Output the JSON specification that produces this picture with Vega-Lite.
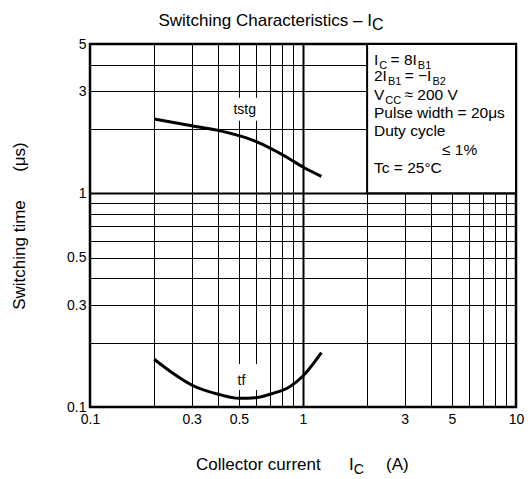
{
  "$schema": "https://vega.github.io/schema/vega-lite/v6.json",
  "width": 426,
  "height": 363,
  "autosize": {"type": "none"},
  "padding": {"left": 90, "top": 44, "right": 14, "bottom": 72},
  "background": "white",
  "config": {
    "view": {"stroke": "black", "strokeWidth": 2.5},
    "font": "Liberation Sans",
    "text": {"font": "Liberation Sans", "color": "black"}
  },
  "datasets": {
    "curves": [
      {"s": "tstg", "x": 0.2, "y": 2.229},
      {"s": "tstg", "x": 0.3, "y": 2.074},
      {"s": "tstg", "x": 0.4, "y": 1.971},
      {"s": "tstg", "x": 0.5, "y": 1.862},
      {"s": "tstg", "x": 0.6, "y": 1.751},
      {"s": "tstg", "x": 0.723, "y": 1.601},
      {"s": "tstg", "x": 0.866, "y": 1.448},
      {"s": "tstg", "x": 1.0, "y": 1.328},
      {"s": "tstg", "x": 1.22, "y": 1.2},
      {"s": "tf", "x": 0.2, "y": 0.1673},
      {"s": "tf", "x": 0.245, "y": 0.1439},
      {"s": "tf", "x": 0.3, "y": 0.1268},
      {"s": "tf", "x": 0.4, "y": 0.1147},
      {"s": "tf", "x": 0.5, "y": 0.1098},
      {"s": "tf", "x": 0.6, "y": 0.1106},
      {"s": "tf", "x": 0.723, "y": 0.1159},
      {"s": "tf", "x": 0.866, "y": 0.1245},
      {"s": "tf", "x": 1.0, "y": 0.1397},
      {"s": "tf", "x": 1.22, "y": 0.1797}
    ],
    "panels": [
      {"k": "bg", "x": 0.4336, "x2": 0.6469, "y": 2.189, "y2": 2.805},
      {"k": "bg", "x": 0.4627, "x2": 0.6263, "y": 0.1201, "y2": 0.1591},
      {"k": "box", "x": 2, "x2": 10, "y": 1, "y2": 5}
    ],
    "texts": [
      {"k": "bm", "x": 2.1544, "y": 3.999, "t": "I"},
      {"k": "bm", "x": 2.5767, "y": 3.999, "t": "= 8"},
      {"k": "bm", "x": 3.2684, "y": 3.999, "t": "I"},
      {"k": "bm", "x": 2.1544, "y": 3.341, "t": "2I"},
      {"k": "bm", "x": 3.0024, "y": 3.341, "t": "= −I"},
      {"k": "bm", "x": 2.1544, "y": 2.741, "t": "V"},
      {"k": "bm", "x": 2.9966, "y": 2.741, "t": "≈ 200 V"},
      {"k": "bm", "x": 2.1544, "y": 2.25, "t": "Pulse width = 20μs"},
      {"k": "bm", "x": 2.1544, "y": 1.859, "t": "Duty cycle"},
      {"k": "bm", "x": 4.494, "y": 1.514, "t": "≤ 1%"},
      {"k": "bm", "x": 2.1544, "y": 1.243, "t": "Tc = 25°C"},
      {"k": "bs", "x": 2.2817, "y": 3.999, "t": "C"},
      {"k": "bs", "x": 3.4613, "y": 3.999, "t": "B1"},
      {"k": "bs", "x": 2.5047, "y": 3.341, "t": "B1"},
      {"k": "bs", "x": 4.053, "y": 3.341, "t": "B2"},
      {"k": "bs", "x": 2.4355, "y": 2.741, "t": "CC"},
      {"k": "cl", "x": 0.5325, "y": 2.348, "t": "tstg"},
      {"k": "cl", "x": 0.514, "y": 0.1268, "t": "tf"},
      {"k": "tm", "x": 2.1083, "y": 6.069, "t": "Switching Characteristics – I"},
      {"k": "ts", "x": 2.1083, "y": 6.069, "t": "C"},
      {"k": "am", "x": 0.3146, "y": 0.0507, "t": "Collector current"},
      {"k": "am", "x": 1.6443, "y": 0.0507, "t": "I"},
      {"k": "as", "x": 1.7298, "y": 0.0507, "t": "C"},
      {"k": "am", "x": 2.4528, "y": 0.0507, "t": "(A)"}
    ]
  },
  "encoding": {
    "x": {
      "field": "x",
      "type": "quantitative",
      "scale": {"type": "log", "domain": [0.1, 10]},
      "axis": {
        "values": [0.1, 0.2, 0.3, 0.4, 0.5, 0.6, 0.7, 0.8, 0.9, 1, 2, 3, 4, 5, 6, 7, 8, 9, 10],
        "format": "~g",
        "labelExpr": "indexof([0.1,0.3,0.5,1,3,5,10], datum.value) >= 0 ? datum.label : ''",
        "title": null,
        "grid": true,
        "gridColor": "black",
        "gridOpacity": 1,
        "gridWidth": {"condition": {"test": "datum.value == 1", "value": 2}, "value": 1},
        "ticks": false,
        "domain": false,
        "labelPadding": 5,
        "labelFontSize": 14,
        "labelFont": "Liberation Sans",
        "labelColor": "black",
        "labelFlush": false,
        "labelOverlap": false
      }
    },
    "y": {
      "field": "y",
      "type": "quantitative",
      "scale": {"type": "log", "domain": [0.1, 5]},
      "axis": {
        "values": [0.1, 0.2, 0.3, 0.4, 0.5, 0.6, 0.7, 0.8, 0.9, 1, 2, 3, 4, 5],
        "format": "~g",
        "labelExpr": "indexof([0.1,0.3,0.5,1,3,5], datum.value) >= 0 ? datum.label : ''",
        "title": "Switching time\u00a0\u00a0\u00a0\u00a0\u00a0\u00a0(μs)\u00a0",
        "titleFont": "Liberation Sans",
        "titleFontSize": 17,
        "titleFontWeight": "normal",
        "titleColor": "black",
        "titlePadding": 38,
        "grid": true,
        "gridColor": "black",
        "gridOpacity": 1,
        "gridWidth": {"condition": {"test": "datum.value == 1", "value": 2}, "value": 1},
        "ticks": false,
        "domain": false,
        "labelPadding": 4,
        "labelFontSize": 14,
        "labelFont": "Liberation Sans",
        "labelColor": "black",
        "labelFlush": false,
        "labelOverlap": false
      }
    }
  },
  "layer": [
    {
      "data": {"name": "panels"},
      "transform": [{"filter": "datum.k == 'bg'"}],
      "mark": {"type": "rect", "fill": "white", "strokeWidth": 0},
      "encoding": {"x2": {"field": "x2"}, "y2": {"field": "y2"}}
    },
    {
      "data": {"name": "panels"},
      "transform": [{"filter": "datum.k == 'box'"}],
      "mark": {"type": "rect", "fill": "white", "stroke": "black", "strokeWidth": 2},
      "encoding": {"x2": {"field": "x2"}, "y2": {"field": "y2"}}
    },
    {
      "data": {"name": "curves"},
      "mark": {"type": "line", "color": "black", "strokeWidth": 3, "interpolate": "monotone"},
      "encoding": {"detail": {"field": "s"}}
    },
    {
      "data": {"name": "texts"},
      "transform": [{"filter": "datum.k == 'cl'"}],
      "mark": {"type": "text", "fontSize": 14, "align": "center", "baseline": "alphabetic"},
      "encoding": {"text": {"field": "t"}}
    },
    {
      "data": {"name": "texts"},
      "transform": [{"filter": "datum.k == 'bm'"}],
      "mark": {"type": "text", "fontSize": 15.5, "align": "left", "baseline": "alphabetic"},
      "encoding": {"text": {"field": "t"}}
    },
    {
      "data": {"name": "texts"},
      "transform": [{"filter": "datum.k == 'bs'"}],
      "mark": {"type": "text", "fontSize": 11, "align": "left", "baseline": "alphabetic", "dy": 4},
      "encoding": {"text": {"field": "t"}}
    },
    {
      "data": {"name": "texts"},
      "transform": [{"filter": "datum.k == 'tm'"}],
      "mark": {"type": "text", "fontSize": 17, "align": "right", "baseline": "alphabetic"},
      "encoding": {"text": {"field": "t"}}
    },
    {
      "data": {"name": "texts"},
      "transform": [{"filter": "datum.k == 'ts'"}],
      "mark": {"type": "text", "fontSize": 16, "align": "left", "baseline": "alphabetic", "dy": 4},
      "encoding": {"text": {"field": "t"}}
    },
    {
      "data": {"name": "texts"},
      "transform": [{"filter": "datum.k == 'am'"}],
      "mark": {"type": "text", "fontSize": 17, "align": "left", "baseline": "alphabetic"},
      "encoding": {"text": {"field": "t"}}
    },
    {
      "data": {"name": "texts"},
      "transform": [{"filter": "datum.k == 'as'"}],
      "mark": {"type": "text", "fontSize": 14, "align": "left", "baseline": "alphabetic", "dy": 4},
      "encoding": {"text": {"field": "t"}}
    }
  ]
}
